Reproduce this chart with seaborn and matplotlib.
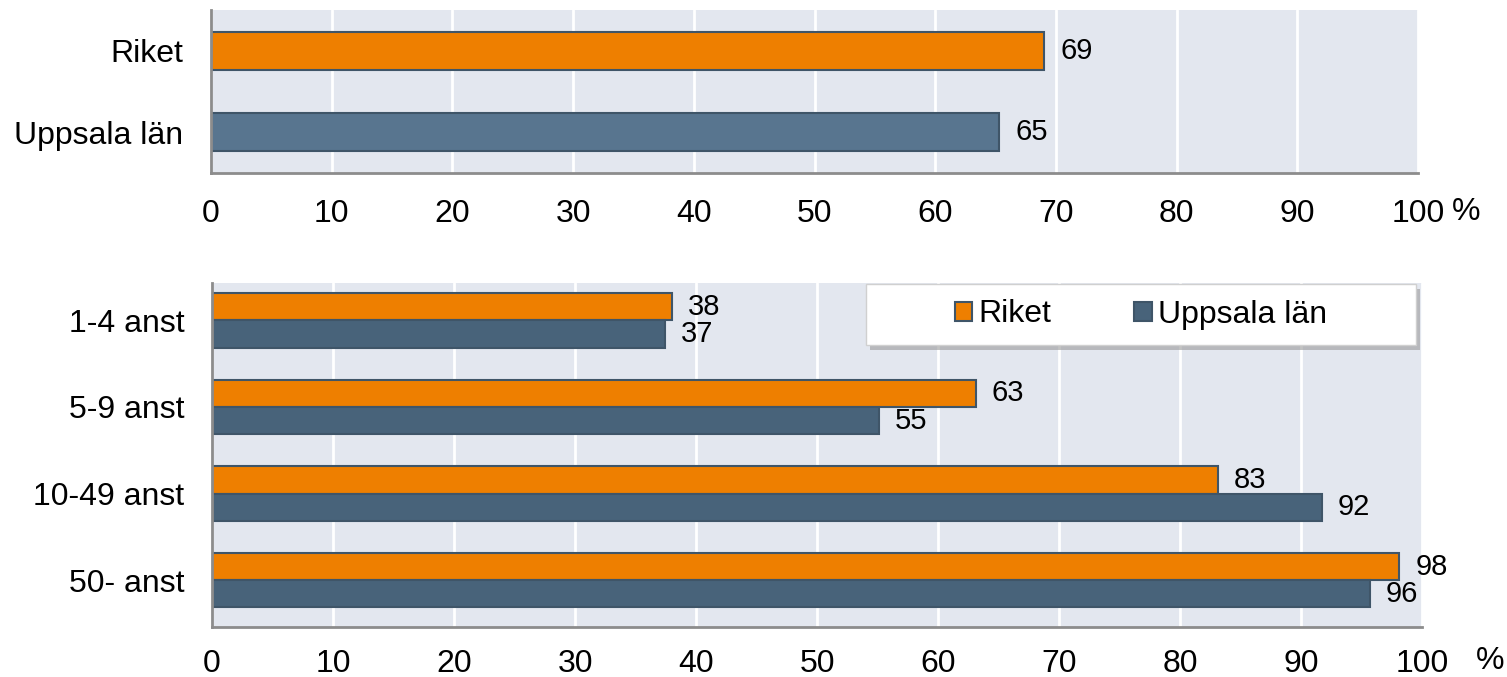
import matplotlib
matplotlib.use("Agg")
import matplotlib.pyplot as plt
import seaborn as sns
import pandas as pd
from matplotlib.patches import Patch, Rectangle

# Data
top_categories = ["Riket", "Uppsala län"]
top_values = [69.0, 65.3]

size_categories = ["1-4 anst", "5-9 anst", "10-49 anst", "50- anst"]
series_names = ["Riket", "Uppsala län"]
riket_values = [38.0, 63.1, 83.1, 98.1]
uppsala_values = [37.4, 55.1, 91.7, 95.7]

x_ticks = [0, 10, 20, 30, 40, 50, 60, 70, 80, 90, 100]

sns.set_theme(style="white")
plt.rcParams["font.family"] = ["Liberation Sans", "DejaVu Sans"]
plt.rcParams["text.color"] = "black"
plt.rcParams["xtick.color"] = "black"
plt.rcParams["ytick.color"] = "black"
plt.rcParams["axes.labelcolor"] = "black"

ORANGE = "#EE7F00"
BLUE_TOP = "#58758F"
BLUE_BOT = "#48637A"
EDGE = "#3F5568"
BG = "#E3E7EF"
SPINE = "#8C8C8C"
TICK_FS = 23
VAL_FS = 21

W, H = 1507, 677
fig = plt.figure(figsize=(W / 100, H / 100), dpi=100)
ax1 = fig.add_axes([0.140, 0.7445, 0.801, 0.2408])
ax2 = fig.add_axes([0.1407, 0.0739, 0.803, 0.508])

def style_axis(ax, xpad):
    ax.set_facecolor(BG)
    ax.set_xlim(0, 100)
    ax.set_xticks(x_ticks)
    ax.grid(axis="x", color="white", linewidth=2)
    ax.set_axisbelow(True)
    for s in ["top", "right"]:
        ax.spines[s].set_visible(False)
    for s in ["left", "bottom"]:
        ax.spines[s].set_color(SPINE)
        ax.spines[s].set_linewidth(2)
    ax.tick_params(axis="x", length=10, width=1.5, color=SPINE, labelcolor="black",
                   labelsize=TICK_FS, pad=xpad)
    ax.tick_params(axis="y", length=0, labelsize=TICK_FS, labelcolor="black", pad=20)
    ax.set_xlabel("")
    ax.set_ylabel("")

# Top chart
df_top = pd.DataFrame({"cat": top_categories, "val": top_values})
sns.barplot(data=df_top, y="cat", x="val", hue="cat", order=top_categories,
            palette=[ORANGE, BLUE_TOP], dodge=False, width=0.47, saturation=1,
            edgecolor=EDGE, linewidth=1.5, legend=False, ax=ax1)
style_axis(ax1, 9)
ax1.set_ylim(1.5, -0.5)
ax1.set_xticklabels([str(t) for t in x_ticks])
for cont in ax1.containers:
    ax1.bar_label(cont, labels=[f"{v:.0f}" for v in cont.datavalues], padding=12,
                  fontsize=VAL_FS, color="black")
fig.text(1466 / W, 1 - 212 / H, "%", fontsize=TICK_FS, ha="center", va="center")

# Bottom chart
df_bot = pd.DataFrame({
    "cat": size_categories * 2,
    "series": [series_names[0]] * 4 + [series_names[1]] * 4,
    "val": riket_values + uppsala_values,
})
sns.barplot(data=df_bot, y="cat", x="val", hue="series", order=size_categories,
            hue_order=series_names, palette=[ORANGE, BLUE_BOT], width=0.63,
            saturation=1, edgecolor=EDGE, linewidth=1.5, ax=ax2)
style_axis(ax2, 6)
ax2.set_ylim(3.54, -0.43)
ax2.set_xticklabels([str(t) for t in x_ticks])
for cont in ax2.containers:
    ax2.bar_label(cont, labels=[f"{v:.0f}" for v in cont.datavalues],
                  padding=11.5, fontsize=VAL_FS, color="black")
fig.text(1490 / W, 1 - 661 / H, "%", fontsize=TICK_FS, ha="center", va="center")

# Legend with a fixed frame and shadow
ax2.legend_.remove()
lx0, lx1, ly0, ly1 = 866, 1416, 284, 345
shadow = Rectangle(((lx0 + 4) / W, 1 - (ly1 + 5) / H), (lx1 - lx0) / W, (ly1 - ly0) / H,
                   transform=fig.transFigure, facecolor="#9A9A9A", edgecolor="none",
                   alpha=0.6, zorder=5)
frame = Rectangle((lx0 / W, 1 - ly1 / H), (lx1 - lx0) / W, (ly1 - ly0) / H,
                  transform=fig.transFigure, facecolor="white", edgecolor="#D0D0D0",
                  linewidth=1, zorder=6)
fig.patches.extend([shadow, frame])
handles = [Patch(facecolor=ORANGE, edgecolor=EDGE, linewidth=1.5),
           Patch(facecolor=BLUE_BOT, edgecolor=EDGE, linewidth=1.5)]
leg = fig.legend(handles, series_names, loc="center", ncol=2,
                 bbox_to_anchor=((lx0 + lx1) / 2 / W, 1 - (ly0 + ly1) / 2 / H),
                 fontsize=TICK_FS, frameon=False, handlelength=0.55, handleheight=0.55,
                 columnspacing=2.6, handletextpad=0.2)
leg.set_zorder(7)

fig.savefig("out.png", dpi=100)
